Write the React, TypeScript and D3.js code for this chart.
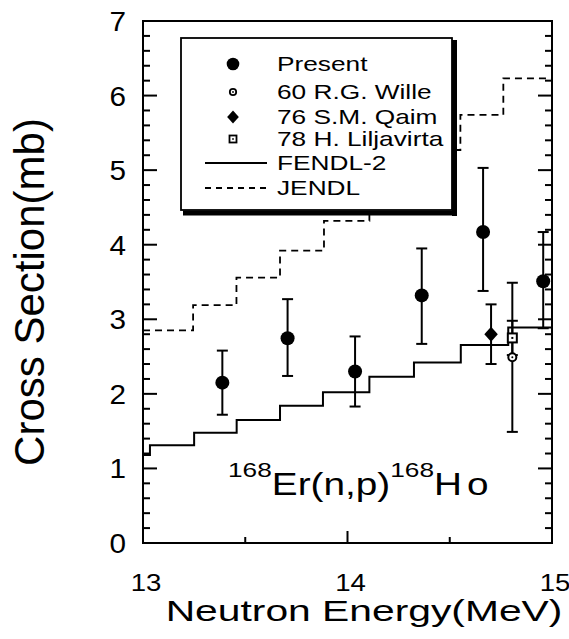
import React from "react";
import * as d3 from "d3";

// ---- data ----
const presentE = [13.388, 13.707, 14.037, 14.363, 14.663, 14.957];
const presentV = [2.15, 2.745, 2.3, 3.32, 4.17, 3.51];
const presentLo = [1.72, 2.24, 1.83, 2.67, 3.38, 2.88];
const presentHi = [2.58, 3.27, 2.77, 3.95, 5.03, 4.17];

const willeE = [14.806];
const willeV = [2.49];
const willeLo = [1.49];
const willeHi = [3.49];

const qaimE = [14.702];
const qaimV = [2.8];
const qaimLo = [2.4];
const qaimHi = [3.2];

const liljE = [14.806];
const liljV = [2.75];
const liljLo = [2.52];
const liljHi = [2.98];

const fendlEdges = [13.0, 13.034, 13.25, 13.458, 13.67, 13.88, 14.107, 14.325, 14.554, 14.786, 15.0];
const fendlLevels = [1.18, 1.31, 1.48, 1.65, 1.84, 2.02, 2.23, 2.42, 2.655, 2.89];

const jendlEdges = [13.0, 13.245, 13.457, 13.67, 13.885, 14.107, 14.325, 14.552, 14.762, 15.0];
const jendlLevels = [2.85, 3.19, 3.56, 3.92, 4.32, 4.8, 5.27, 5.74, 6.23];

const yTicksMajor = [0, 1, 2, 3, 4, 5, 6, 7];
const xTickLabels = [13, 14, 15];
const xTicksMinor = [13.5, 14.5];

const legendLabels = ["Present", "60 R.G. Wille", "76 S.M. Qaim", "78 H. Liljavirta", "FENDL-2", "JENDL"];

const W = 569;
const H = 639;
const L = 143, R = 552, T = 21, B = 543;
const FONT = "'Liberation Sans', Arial, Helvetica, sans-serif";

export default function App() {
  const x = d3.scaleLinear().domain([13, 15]).range([L, R]);
  const y = d3.scaleLinear().domain([0, 7]).range([B, T]);

  const stepPts = (edges: number[], levels: number[]) => {
    const pts: [number, number][] = levels.map((v, i) => [edges[i], v]);
    pts.push([edges[edges.length - 1], levels[levels.length - 1]]);
    return pts;
  };
  const line = d3
    .line<[number, number]>()
    .x((d) => x(d[0]))
    .y((d) => y(d[1]))
    .curve(d3.curveStepAfter);

  const minorY = d3.range(0, 7.001, 0.2).map((v) => Math.round(v * 10) / 10);

  const errBar = (e: number, lo: number, hi: number, key: string) => (
    <g key={key} stroke="#000" strokeWidth={2}>
      <line x1={x(e)} x2={x(e)} y1={y(lo)} y2={y(hi)} />
      <line x1={x(e) - 5.5} x2={x(e) + 5.5} y1={y(lo)} y2={y(lo)} />
      <line x1={x(e) - 5.5} x2={x(e) + 5.5} y1={y(hi)} y2={y(hi)} />
    </g>
  );

  const diamond = (cx: number, cy: number, s: number) =>
    `M${cx},${cy - s} L${cx + s * 0.9},${cy} L${cx},${cy + s} L${cx - s * 0.9},${cy} Z`;

  const hText = (
    tx: number,
    ty: number,
    content: React.ReactNode,
    size: number,
    sx: number,
    anchor: "start" | "middle" | "end" = "start",
    key?: string
  ) => (
    <g key={key} transform={`translate(${tx},${ty}) scale(${sx},1)`}>
      <text x={0} y={0} fontSize={size} fontFamily={FONT} textAnchor={anchor} fill="#000">
        {content}
      </text>
    </g>
  );

  const legX = 181, legY = 38, legW = 271, legH = 172;
  const rowY = [64, 92, 117, 139, 163, 188];
  const mX = 233;
  const tX = 277;

  return (
    <svg
      width={W}
      height={H}
      style={{ position: "absolute", left: 0, top: 0, background: "#fff" }}
      xmlns="http://www.w3.org/2000/svg"
    >
      <rect x={0} y={0} width={W} height={H} fill="#fff" />

      {/* step curves */}
      <path d={line(stepPts(fendlEdges, fendlLevels)) || ""} fill="none" stroke="#000" strokeWidth={2} />
      <path
        d={line(stepPts(jendlEdges, jendlLevels)) || ""}
        fill="none"
        stroke="#000"
        strokeWidth={1.8}
        strokeDasharray="7,5"
      />

      {/* error bars */}
      {presentE.map((e, i) => errBar(e, presentLo[i], presentHi[i], "p" + i))}
      {willeE.map((e, i) => errBar(e, willeLo[i], willeHi[i], "w" + i))}
      {qaimE.map((e, i) => errBar(e, qaimLo[i], qaimHi[i], "q" + i))}
      {liljE.map((e, i) => errBar(e, liljLo[i], liljHi[i], "l" + i))}

      {/* markers */}
      {presentE.map((e, i) => (
        <circle key={"pc" + i} cx={x(e)} cy={y(presentV[i])} r={7} fill="#000" />
      ))}
      {qaimE.map((e, i) => (
        <path key={"qd" + i} d={diamond(x(e), y(qaimV[i]), 7.5)} fill="#000" />
      ))}
      {liljE.map((e, i) => (
        <g key={"ls" + i}>
          <rect x={x(e) - 4.5} y={y(liljV[i]) - 4.5} width={9} height={9} fill="#fff" stroke="#000" strokeWidth={2} />
          <rect x={x(e) - 1} y={y(liljV[i]) - 1} width={2} height={2} fill="#000" />
        </g>
      ))}
      {willeE.map((e, i) => (
        <g key={"wc" + i}>
          <circle cx={x(e)} cy={y(willeV[i])} r={4} fill="#fff" stroke="#000" strokeWidth={2} />
          <circle cx={x(e)} cy={y(willeV[i])} r={1} fill="#000" />
        </g>
      ))}

      {/* axes frame */}
      <rect x={L} y={T} width={R - L} height={B - T} fill="none" stroke="#000" strokeWidth={2} />
      {/* y ticks left & right */}
      {minorY.map((v) => {
        const major = Math.abs(v - Math.round(v)) < 1e-6;
        const len = major ? 14 : 7;
        return (
          <g key={"yt" + v} stroke="#000" strokeWidth={2}>
            <line x1={L} x2={L + len} y1={y(v)} y2={y(v)} />
            <line x1={R} x2={R - len} y1={y(v)} y2={y(v)} />
          </g>
        );
      })}
      {/* x ticks bottom */}
      {[14].map((v) => (
        <line key={"xM" + v} x1={x(v)} x2={x(v)} y1={B} y2={B - 12} stroke="#000" strokeWidth={2} />
      ))}
      {xTicksMinor.map((v) => (
        <line key={"xm" + v} x1={x(v)} x2={x(v)} y1={B} y2={B - 6} stroke="#000" strokeWidth={2} />
      ))}

      {/* y tick labels */}
      {yTicksMajor.map((v) => hText(126, y(v) + 10, String(v), 27, 1.1, "end", "yl" + v))}
      {/* x tick labels */}
      {xTickLabels.map((v) => hText(x(v) + 3, 591, String(v), 23, 1.2, "middle", "xl" + v))}

      {/* axis titles */}
      {hText(364, 621, "Neutron Energy(MeV)", 30, 1.36, "middle")}
      <text
        transform={`translate(44,${(T + B) / 2 + 10}) rotate(-90)`}
        fontSize={42}
        fontFamily={FONT}
        textAnchor="middle"
        fill="#000"
      >
        Cross Section(mb)
      </text>

      {/* reaction label */}
      {hText(
        228,
        495,
        <>
          <tspan fontSize={21} dy={-18}>168</tspan>
          <tspan fontSize={31} dy={18}>Er(n,p)</tspan>
          <tspan fontSize={21} dy={-18}>168</tspan>
          <tspan fontSize={31} dy={18} letterSpacing={4}>Ho</tspan>
        </>,
        31,
        1.25
      )}

      {/* legend */}
      <rect x={legX} y={legY} width={legW} height={legH} fill="#fff" stroke="#000" strokeWidth={1.8} />
      <line x1={legX + legW + 2.5} x2={legX + legW + 2.5} y1={legY + 2} y2={legY + legH + 6} stroke="#000" strokeWidth={5} />
      <line x1={legX + 2} x2={legX + legW + 5} y1={legY + legH + 3} y2={legY + legH + 3} stroke="#000" strokeWidth={5} />

      <circle cx={mX} cy={rowY[0]} r={6.3} fill="#000" />
      <circle cx={mX} cy={rowY[1]} r={3.2} fill="#fff" stroke="#000" strokeWidth={1.8} />
      <circle cx={mX} cy={rowY[1]} r={0.9} fill="#000" />
      <path d={diamond(mX, rowY[2], 6.5)} fill="#000" />
      <rect x={mX - 3.5} y={rowY[3] - 3.5} width={7} height={7} fill="#fff" stroke="#000" strokeWidth={1.8} />
      <rect x={mX - 0.8} y={rowY[3] - 0.8} width={1.6} height={1.6} fill="#000" />
      <line x1={205} x2={267} y1={rowY[4]} y2={rowY[4]} stroke="#000" strokeWidth={1.8} />
      <line x1={205} x2={267} y1={rowY[5]} y2={rowY[5]} stroke="#000" strokeWidth={1.8} strokeDasharray="6,5" />

      {legendLabels.map((t, i) => hText(tX, rowY[i] + 7, t, 21, 1.25, "start", "lg" + i))}
    </svg>
  );
}
